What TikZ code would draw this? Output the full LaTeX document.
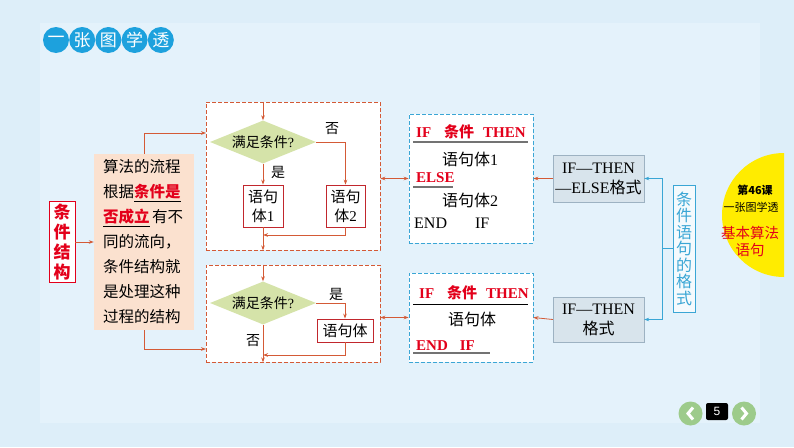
\documentclass[tikz,border=0pt]{standalone}
\usepackage{fontspec}
\setmainfont{Liberation Serif}
\newfontfamily\cjk{Noto Sans CJK SC}
\newfontfamily\navfont{Liberation Sans}
\usetikzlibrary{positioning}
\usetikzlibrary{shapes.geometric}
\usetikzlibrary{arrows.meta}
\definecolor{page-blue}{HTML}{DDEEF9}
\definecolor{panel-blue}{HTML}{E4F2FB}
\definecolor{title-blue}{HTML}{1DA1DD}
\definecolor{link-red}{HTML}{D45A36}
\definecolor{box-red}{HTML}{C1272D}
\definecolor{hot-red}{HTML}{E3001B}
\definecolor{peach}{HTML}{FBE1CF}
\definecolor{leaf-green}{HTML}{D5E3A9}
\definecolor{fmt-gray}{HTML}{D8E4EC}
\definecolor{edge-gray}{HTML}{9DB2C2}
\definecolor{code-cyan}{HTML}{3AA6D5}
\definecolor{sun-yellow}{HTML}{FFEC00}
\definecolor{nav-green}{HTML}{9DCB8B}
\newcommand{\hot}[1]{\underline{\textcolor{hot-red}{\bfseries #1}}}
\tikzset{
  flowframe/.style={draw=link-red, dash pattern=on 4pt off 2pt, fill=white,
    line width=0.7pt, minimum width=174pt, inner sep=0pt},
  codebox/.style={draw=code-cyan, dash pattern=on 4pt off 2pt, fill=white,
    line width=0.8pt, minimum width=124pt, inner sep=0pt},
  cond/.style={diamond, fill=leaf-green, aspect=2.4, minimum width=106pt,
    minimum height=43pt, inner sep=0pt, font=\cjk\fontsize{14}{16}\selectfont},
  stmt/.style={draw=box-red, fill=white, line width=0.8pt, align=center,
    inner sep=0pt, font=\cjk\fontsize{15}{19}\selectfont},
  tag/.style={inner sep=0pt, font=\cjk\fontsize{14}{14}\selectfont},
  kw/.style={anchor=west, inner sep=0pt, text=hot-red,
    font=\bfseries\fontsize{15}{15}\selectfont},
  plain/.style={anchor=west, inner sep=0pt, font=\fontsize{16}{16}\selectfont},
  fmt/.style={draw=edge-gray, fill=fmt-gray, minimum width=91pt, align=center,
    inner sep=0pt, font=\fontsize{16}{20}\selectfont},
}

\begin{document}
\begin{tikzpicture}[
  x=1pt, y=-1pt, >={Stealth[length=5pt,width=3.6pt]},
  link/.style={draw=link-red, line width=0.8pt, ->},
  fork/.style={draw=code-cyan, line width=0.8pt},
  rule/.style={draw=black!55, line width=1.4pt}]
  \useasboundingbox (0,0) rectangle (794,447);
  \fill[page-blue] (0,0) rectangle (794,447);
  \fill[panel-blue] (40,23) rectangle (760,423);

  % title
  \foreach \ch [count=\i from 0] in {一,张,图,学,透}
    \node[circle, fill=title-blue, text=white, minimum size=26pt, inner sep=0pt,
      font=\cjk\fontsize{17}{17}\selectfont] (title-\i) at (56+26.2*\i, 40) {\ch};

  % left part
  \node[draw=hot-red, fill=white, line width=0.8pt, text=hot-red, align=center,
    minimum width=26pt, minimum height=81pt, inner sep=0pt,
    font=\cjk\bfseries\fontsize{17}{20}\selectfont] (topic) at (62,242) {条\\件\\结\\构};
  \node[fill=peach, text width=82pt, inner xsep=9pt, inner ysep=0pt,
    minimum height=176pt, align=left,
    font=\cjk\fontsize{15.5}{25}\selectfont] (story) at (144,242)
    {算法的流程\\根据\hot{条件是}\\\hot{否成立}\,有不\\同的流向，\\条件结构就\\是处理这种\\过程的结构};
  \coordinate (in-a) at (206,133);
  \coordinate (in-b) at (206,349);
  \draw[link] (topic.east) -- (story.west);
  \draw[link] (story.north) |- (in-a);
  \draw[link] (story.south) |- (in-b);

  % if-then-else flow
  \node[flowframe, minimum height=148pt] (frame-a) at (293,176) {};
  \node[cond] (cond-a) at (263,142) {满足条件{\rmfamily ?}};
  \node[stmt, minimum width=40pt, minimum height=42pt] (stmt-a1) at (263,206) {语句\\体{\rmfamily 1}};
  \node[stmt, minimum width=39pt, minimum height=42pt] (stmt-a2) at (345.5,206) {语句\\体{\rmfamily 2}};
  \node[tag] (yes-a) at (278,172) {是};
  \node[tag] (no-a) at (332,129) {否};
  \coordinate (join-a) at (263,235);
  \draw[link] (frame-a.north -| cond-a) -- (cond-a.north);
  \draw[link] (cond-a.south) -- (stmt-a1.north);
  \draw[link] (cond-a.east) -| (stmt-a2.north);
  \draw[link] (stmt-a2.south) |- (join-a);
  \draw[link] (stmt-a1.south) -- (frame-a.south -| stmt-a1);

  % if-then flow
  \node[flowframe, minimum height=97pt] (frame-b) at (293,313.5) {};
  \node[cond] (cond-b) at (263,303) {满足条件{\rmfamily ?}};
  \node[stmt, minimum width=56pt, minimum height=23pt] (stmt-b) at (345,330.5) {语句体};
  \node[tag] (yes-b) at (336,294) {是};
  \node[tag] (no-b) at (253,341) {否};
  \coordinate (join-b) at (263,355);
  \draw[link] (frame-b.north -| cond-b) -- (cond-b.north);
  \draw[link] (cond-b.east) -| (stmt-b.north);
  \draw[link] (stmt-b.south) |- (join-b);
  \draw[link] (cond-b.south) -- (frame-b.south -| cond-b);

  % statement formats
  \node[codebox, minimum height=129pt] (code-a) at (471,178.5) {};
  \node[kw] (if-a) at (416,132) {IF\hspace{13pt}{\cjk 条件}\hspace{9pt}THEN};
  \draw[rule] (413,142) -- (528,142);
  \node[plain] (body-a1) at (442,159) {{\cjk 语句体}1};
  \node[kw] (else-a) at (416,178) {ELSE};
  \draw[rule] (413,187) -- (453,187);
  \node[plain] (body-a2) at (442,200) {{\cjk 语句体}2};
  \node[plain] (end-a) at (414,223) {END\hspace{28pt}IF};

  \node[codebox, minimum height=89pt] (code-b) at (471,317.5) {};
  \node[kw] (if-b) at (419,293) {IF\hspace{13pt}{\cjk 条件}\hspace{9pt}THEN};
  \draw[black, line width=0.8pt] (413,304) -- (528,304);
  \node[plain, anchor=center] (body-b) at (472,319) {{\cjk 语句体}};
  \node[kw] (end-b) at (416,346) {END\hspace{12pt}IF};
  \draw[rule] (413,353) -- (490,353);

  \draw[link, <->] (frame-a.east |- code-a.west) -- (code-a.west);
  \draw[link, <->] (frame-b.east |- code-b.west) -- (code-b.west);

  % format names
  \node[fmt, minimum height=47pt] (fmt-a) at (598.5,178.5) {IF—THEN\\—ELSE{\cjk 格式}};
  \node[fmt, minimum height=45pt] (fmt-b) at (598.5,319.5) {IF—THEN\\{\cjk 格式}};
  \draw[link] (fmt-a.west) -- (code-a.east);
  \draw[link] (fmt-b.west) -- (code-b.east);

  \node[draw=code-cyan, fill=white!60!panel-blue, text=code-cyan, align=center,
    minimum width=22pt, minimum height=127pt, inner sep=0pt,
    font=\cjk\fontsize{16}{16.5}\selectfont] (kind) at (684,248.5) {条\\件\\语\\句\\的\\格\\式};
  \coordinate (fork) at (662,248.5);
  \draw[fork] (kind.west) -- (fork);
  \draw[fork, ->] (fork) |- (fmt-a.east);
  \draw[fork, ->] (fork) |- (fmt-b.east);

  % lesson badge
  \begin{scope}
    \clip (700,140) rectangle (784,290);
    \fill[sun-yellow] (784,215) circle[radius=62];
  \end{scope}
  \node[inner sep=0pt, font=\cjk\bfseries\fontsize{11}{11}\selectfont] (lesson-no) at (755,190) {第46课};
  \node[inner sep=0pt, font=\cjk\fontsize{11}{11}\selectfont] (lesson-tag) at (751,207) {一张图学透};
  \node[inner sep=0pt, text=hot-red, font=\cjk\fontsize{14.5}{14.5}\selectfont] (unit-a) at (750,233) {基本算法};
  \node[inner sep=0pt, text=hot-red, font=\cjk\fontsize{14.5}{14.5}\selectfont] (unit-b) at (750,250) {语句};

  % page navigation
  \node[circle, fill=nav-green, minimum size=24pt, inner sep=0pt] (nav-prev) at (690.5,413.5) {};
  \node[circle, fill=nav-green, minimum size=24pt, inner sep=0pt] (nav-next) at (744,413.5) {};
  \node[fill=black, rounded corners=2pt, text=white, minimum width=22pt, minimum height=17pt,
    inner sep=0pt, font=\navfont\fontsize{12}{12}\selectfont] (page) at (717,411.5) {5};
  \draw[white, line width=3pt] (nav-prev) ++(2.5,-6) -- ++(-5,6) -- ++(5,6);
  \draw[white, line width=3pt] (nav-next) ++(-2.5,-6) -- ++(5,6) -- ++(-5,6);
\end{tikzpicture}
\end{document}
